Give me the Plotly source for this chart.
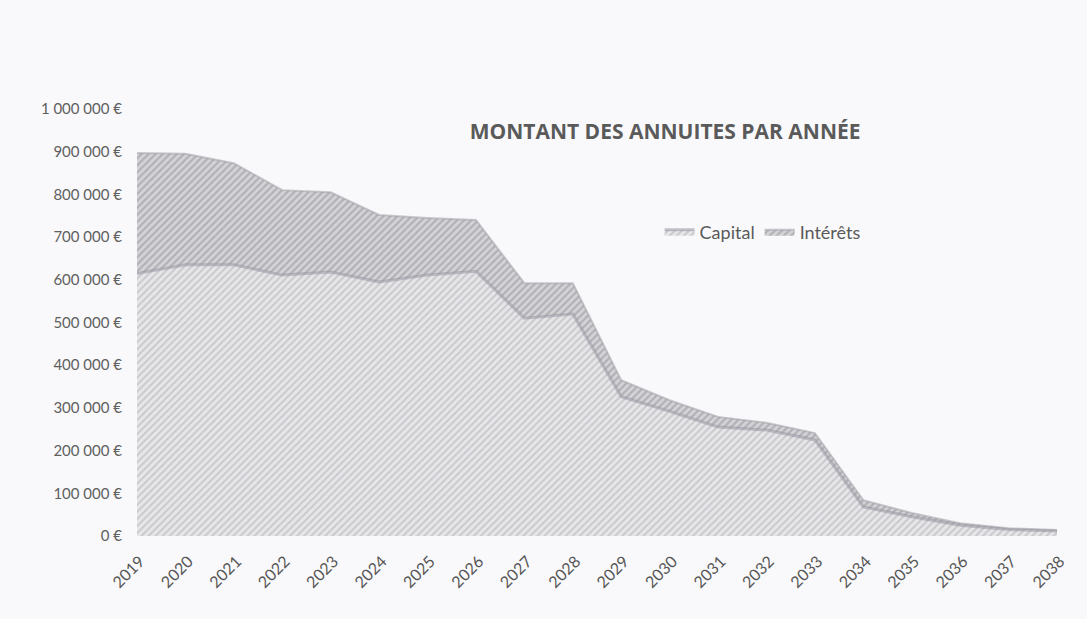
import plotly.graph_objects as go

years = [str(y) for y in range(2019, 2039)]
capital = [615000, 635000, 635000, 611000, 618000, 595000, 611000, 620000, 510000, 520000,
           326000, 292000, 255000, 248000, 225000, 68000, 45000, 25000, 15000, 12000]
interets = [282000, 260000, 238000, 199000, 187000, 157000, 134000, 120000, 82000, 72000,
            39000, 26000, 24000, 17000, 16000, 16000, 9000, 5000, 3000, 2000]
y_ticks = [0, 100000, 200000, 300000, 400000, 500000, 600000, 700000, 800000, 900000, 1000000]
y_labels = ["0 €", "100 000 €", "200 000 €", "300 000 €", "400 000 €", "500 000 €",
            "600 000 €", "700 000 €", "800 000 €", "900 000 €", "1 000 000 €"]

BG = "#f9f9fb"
fig = go.Figure()
fig.add_trace(go.Scatter(
    x=years, y=capital, name="Capital", stackgroup="one", mode="lines",
    line=dict(color="rgba(150,150,160,0.55)", width=3),
    fillcolor="#dcdcdf",
    fillpattern=dict(shape="/", fgcolor="#a9a9ae", bgcolor="#e6e6e9", size=5, solidity=0.35),
))
fig.add_trace(go.Scatter(
    x=years, y=interets, name="Intérêts", stackgroup="one", mode="lines",
    line=dict(color="rgba(160,160,168,0.55)", width=2),
    fillcolor="#c8c8cc",
    fillpattern=dict(shape="/", fgcolor="#8e8e94", bgcolor="#d4d4d8", size=5, solidity=0.45),
))

fig.update_layout(
    width=1087, height=619,
    paper_bgcolor=BG, plot_bgcolor=BG,
    margin=dict(l=137, r=30, t=109, b=83),
    font=dict(family="Lato, Open Sans, sans-serif", color="#595959", size=13),
    title=dict(text="<b>MONTANT DES ANNUITES PAR ANNÉE</b>",
               x=0.574, xref="paper", xanchor="center", y=0.787, yref="container", yanchor="middle",
               font=dict(size=21, color="#5a5a5a", family="Open Sans, Lato, sans-serif")),
    legend=dict(orientation="h", x=0.68, xanchor="center", y=0.712, yanchor="middle",
                traceorder="normal", bgcolor="rgba(0,0,0,0)", font=dict(size=18, color="#595959")),
    showlegend=True,
)
fig.update_xaxes(type="category", range=[0, 19], tickangle=-45, showgrid=False,
                 showline=False, ticks="", ticklabelstandoff=12, ticklabelshift=3,
                 tickfont=dict(size=16, color="#555"))
fig.update_yaxes(range=[0, 1000000], tickvals=y_ticks, ticktext=y_labels, showgrid=False,
                 zeroline=False, showline=False, ticks="", ticklabelstandoff=14,
                 tickfont=dict(size=15, color="#606060"))

fig.write_html("out.html", config={"displayModeBar": False},
               post_script="document.body.style.margin='0';document.body.style.background='" + BG + "';")
